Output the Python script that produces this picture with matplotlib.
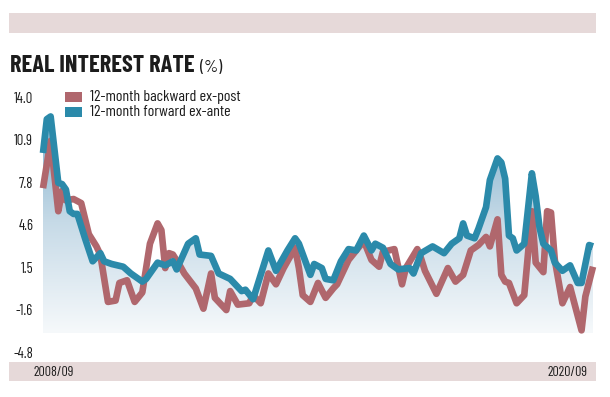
import numpy as np
import matplotlib
matplotlib.use("Agg")
import matplotlib.pyplot as plt
from matplotlib.patches import Rectangle, PathPatch
from matplotlib.colors import LinearSegmentedColormap

plt.rcParams["font.family"] = ["Barlow Condensed", "DejaVu Sans"]

# months after 2008/09, values in %
fwd_month = [0, 1, 2, 4, 5, 6, 7, 8, 9, 11, 13, 15, 16, 18, 21, 23, 26, 27, 30, 32,
             34, 35, 38, 40, 41, 44, 46, 49, 52, 53, 55, 59, 61, 64, 66, 67, 70, 71, 73, 74,
             76, 78, 80, 82, 84, 86, 87, 89, 91, 93, 96, 97, 99, 102, 105, 107, 109, 110, 111, 113,
             114, 116, 117, 119, 120, 121, 122, 123, 124, 126, 128, 129, 130, 131, 133, 134, 136, 138, 140, 141,
             143, 144]
fwd_value = [9.9, 12.4, 12.6, 7.7, 7.6, 7.2, 5.6, 5.4, 5.4, 3.6, 1.9, 2.5, 1.9, 1.7, 1.5, 1.0, 0.4, 0.6, 1.8, 1.6,
             1.9, 1.3, 3.2, 3.6, 2.4, 2.3, 1.0, 0.6, -0.3, -0.2, -0.9, 2.7, 1.2, 2.7, 3.6, 3.2, 0.9, 1.7, 1.4, 0.6,
             0.5, 1.9, 2.8, 2.7, 3.8, 2.7, 3.2, 2.9, 1.7, 1.3, 1.4, 1.0, 2.5, 3.0, 2.5, 3.2, 3.6, 4.7, 3.8, 3.6,
             4.3, 5.9, 7.9, 9.5, 9.2, 8.0, 3.8, 3.6, 2.7, 3.2, 8.4, 6.7, 4.4, 3.2, 2.7, 1.8, 1.2, 1.6, 0.3, 0.3,
             3.1, 3.0]

bwd_month = [0, 2, 4, 5, 6, 8, 10, 12, 14, 15, 17, 19, 20, 22, 24, 26, 28, 30, 31, 32,
             33, 34, 36, 37, 40, 42, 44, 45, 48, 49, 51, 54, 55, 57, 59, 61, 63, 66, 67, 68,
             70, 72, 74, 76, 77, 80, 82, 84, 86, 88, 89, 92, 94, 95, 98, 99, 100, 103, 106, 108,
             110, 112, 114, 116, 117, 119, 120, 121, 122, 124, 126, 128, 129, 131, 132, 133, 134, 136, 138, 141,
             142, 144]
bwd_value = [7.3, 10.8, 5.6, 7.1, 6.4, 6.5, 6.2, 3.9, 3.0, 2.4, -1.1, -1.0, 0.3, 0.5, -1.1, -0.4, 3.2, 4.7, 4.2, 1.4,
             2.5, 2.4, 1.5, 1.0, -0.1, -1.6, 1.0, -0.8, -1.7, -0.3, -1.3, -1.2, -0.6, -1.2, 1.0, 0.2, 1.4, 2.9, 1.4, -0.6,
             -1.1, 0.3, -0.8, -0.1, 0.2, 2.0, 2.7, 3.4, 2.0, 1.5, 2.6, 2.8, 0.2, 1.4, 2.8, 2.1, 1.2, -0.5, 1.4, 0.4,
             0.9, 2.7, 3.1, 3.7, 3.0, 5.0, 0.9, 0.4, 0.3, -1.2, -0.6, 5.6, 1.8, 1.1, 5.6, 5.5, 2.0, -1.2, 0.0, -3.2,
             -0.7, 1.5]

ytick_values = np.linspace(-4.8, 14.0, 7)
ytick_labels = ["-4.8", "-1.6", "1.5", "4.6", "7.8", "10.9", "14.0"]
date_labels = ["2008/09", "2020/09"]
series_names = ["12-month backward ex-post", "12-month forward ex-ante"]

RED = "#b0676d"
BLUE = "#2b8aaa"
BAND = "#e6d9d9"
TXT = "#1c1c1c"

W, H = 610, 397
fig = plt.figure(figsize=(W / 100, H / 100), dpi=100)


def px_box(x0, y0, x1, y1):
    # pixel box (top-left origin) -> figure fraction rect
    return (x0 / W, 1 - y1 / H, (x1 - x0) / W, (y1 - y0) / H)


# header and footer bands
for box in [px_box(9, 13, 596, 33), px_box(9, 362, 596, 381)]:
    fig.add_artist(Rectangle(box[:2], box[2], box[3], transform=fig.transFigure,
                             facecolor=BAND, edgecolor="none"))

title = fig.text(10 / W, 1 - 72 / H, "REAL INTEREST RATE", fontsize=17.5, fontweight="bold",
                 color=TXT, va="baseline", ha="left")
fig.canvas.draw()
tb = title.get_window_extent()
fig.text((tb.x1 + 5) / W, 1 - 72 / H, "(%)", fontsize=13, color=TXT, va="baseline", ha="left")

fig.text(54 / W, 1 - 372 / H, date_labels[0], fontsize=10, color=TXT, ha="center", va="center")
fig.text(568 / W, 1 - 372 / H, date_labels[1], fontsize=10, color=TXT, ha="center", va="center")

ax = fig.add_axes([43 / W, 1 - 352 / H, 550 / W, 254.5 / H])

# gradient fill under forward line
fill_bottom = -3.4
poly = ax.fill_between(fwd_month, fwd_value, fill_bottom, facecolor="none", edgecolor="none")
clip = PathPatch(poly.get_paths()[0], facecolor="none", edgecolor="none", transform=ax.transData)
ax.add_patch(clip)
cmap = LinearSegmentedColormap.from_list("grad", ["#f6f9fb", "#c6dae7", "#7aadca"])
grad = np.linspace(0, 1, 256).reshape(-1, 1)
img = ax.imshow(grad, extent=[0, 144, fill_bottom, 13.0], origin="lower", aspect="auto",
                cmap=cmap, zorder=1)
img.set_clip_path(clip)

ax.plot(bwd_month, bwd_value, color=RED, lw=4.8, solid_joinstyle="round",
        solid_capstyle="butt", zorder=3, clip_on=False)
ax.plot(fwd_month, fwd_value, color=BLUE, lw=4.8, solid_joinstyle="round",
        solid_capstyle="butt", zorder=4, clip_on=False)

ax.set_xlim(0, 144)
ax.set_ylim(-4.8, 14.0)
ax.set_xticks([])
ax.set_yticks(ytick_values)
ax.set_yticklabels(ytick_labels)
ax.tick_params(axis="y", length=0, pad=7, labelsize=10.5, labelcolor=TXT)
for s in ax.spines.values():
    s.set_visible(False)
ax.patch.set_visible(False)

# legend
for i, (name, col) in enumerate(zip(series_names, [RED, BLUE])):
    ytop = 92 + i * 15
    box = px_box(65, ytop, 82, ytop + 10)
    fig.add_artist(Rectangle(box[:2], box[2], box[3], transform=fig.transFigure,
                             facecolor=col, edgecolor="none"))
    fig.text(90 / W, 1 - (ytop + 5) / H, name, fontsize=11.5, color=TXT, ha="left", va="center")

fig.savefig("out.png", dpi=100)
